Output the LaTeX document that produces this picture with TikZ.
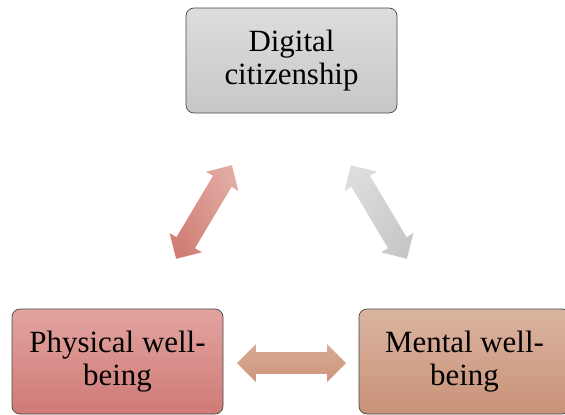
\documentclass[tikz,border=0pt]{standalone}
\usepackage{fontspec}
\setmainfont{Liberation Serif}
\usetikzlibrary{shapes.arrows}

\definecolor{grisA}{RGB}{221,221,221}
\definecolor{grisB}{RGB}{199,199,199}
\definecolor{rougeA}{RGB}{226,164,160}
\definecolor{rougeB}{RGB}{207,122,118}
\definecolor{brunA}{RGB}{218,180,160}
\definecolor{brunB}{RGB}{201,146,120}
\definecolor{flecheA}{RGB}{226,170,162}
\definecolor{flecheB}{RGB}{208,126,118}
\definecolor{flecheC}{RGB}{214,170,146}
\definecolor{flecheD}{RGB}{206,150,124}

\tikzset{
  boite/.style={draw=gray!55!black, line width=0.5pt, rounded corners=0.2cm,
    minimum width=5.275cm, minimum height=2.625cm, align=center,
    font=\fontsize{22}{24}\selectfont},
  fleche/.style={double arrow, double arrow head extend=0.2cm,
    minimum height=2.725cm, minimum width=0.925cm, inner sep=0.2625cm}
}

\begin{document}
\begin{tikzpicture}
    \useasboundingbox (0,0) rectangle (14.125,10.35);

    % Boites
    \node[boite, top color=grisA, bottom color=grisB] (digital) at (7.2875,8.8375) {Digital\\citizenship};
    \node[boite, top color=rougeA, bottom color=rougeB] (physique) at (2.9375,1.3125) {Physical well-\\being};
    \node[boite, top color=brunA, bottom color=brunB] (mental) at (11.6125,1.3125) {Mental well-\\being};

    % Fleches
    \node[fleche, top color=flecheA, bottom color=flecheB, shading angle=-59.2, rotate=59.2] (fg) at (5.1,5.05) {};
    \node[fleche, top color=grisA, bottom color=grisB, shading angle=59.2, rotate=-59.2] (fd) at (9.475,5.05) {};
    \node[fleche, top color=flecheC, bottom color=flecheD] (fb) at (7.2875,1.275) {};

\end{tikzpicture}
\end{document}
